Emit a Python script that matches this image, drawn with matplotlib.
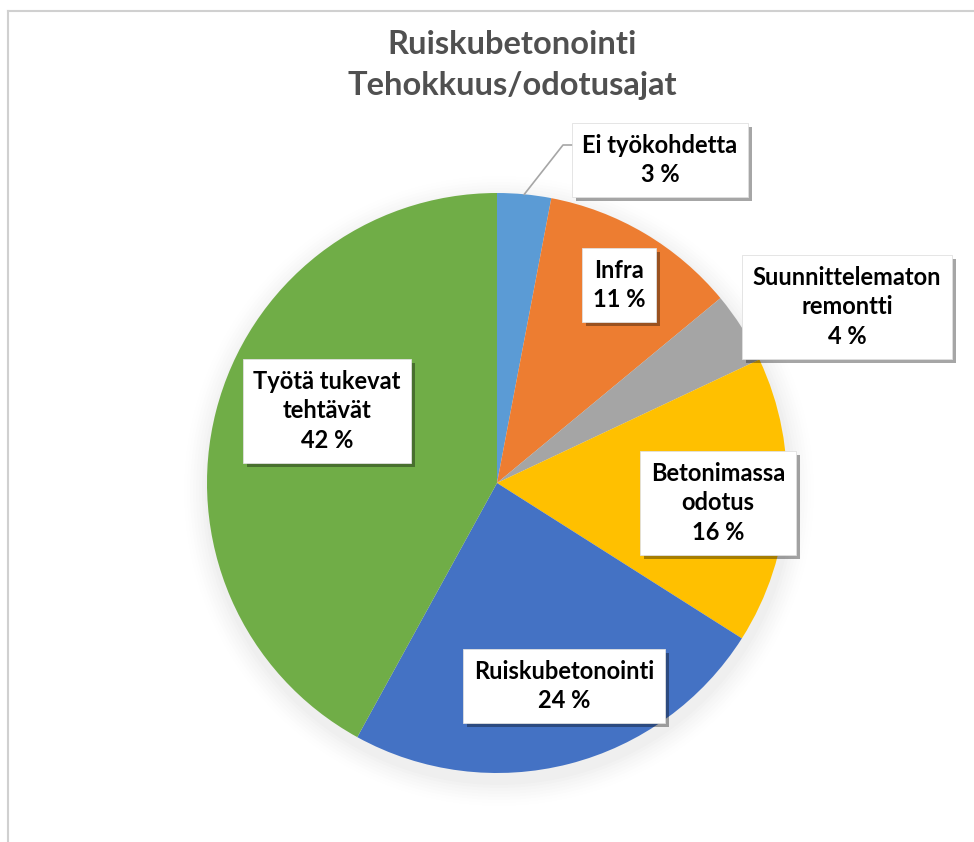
import matplotlib
matplotlib.use("Agg")
import matplotlib.pyplot as plt
import matplotlib.patheffects as pe
from matplotlib.patches import Circle
import numpy as np

plt.rcParams['font.family'] = ['Lato', 'DejaVu Sans']

# ---- data ----
categories = ["Ei työkohdetta", "Infra", "Suunnittelematon\nremontti",
              "Betonimassa\nodotus", "Ruiskubetonointi", "Työtä tukevat\ntehtävät"]
values = [3, 11, 4, 16, 24, 42]
colors = ["#5B9BD5", "#ED7D31", "#A5A5A5", "#FFC000", "#4472C4", "#70AD47"]
title_lines = ["Ruiskubetonointi", "Tehokkuus/odotusajat"]

# ---- layout (pixels, origin top-left) ----
W, H = 974, 842
cx, cy, R = 497, 483, 290
label_pos = [(660, 160), (619, 285), (847, 307), (718, 503), (564, 686), (327, 411)]

fig = plt.figure(figsize=(W / 100, H / 100), dpi=100)
ax = fig.add_axes([0, 0, 1, 1])

# soft shadow under pie
for i, a in enumerate(np.linspace(0.012, 0.004, 8)):
    ax.add_patch(Circle((cx + 2, H - cy - 8), R + 4 + i * 3, color="black",
                        alpha=a, lw=0, zorder=0))

wedges, _ = ax.pie(values, colors=colors, startangle=90, counterclock=False,
                   center=(cx, H - cy), radius=R,
                   wedgeprops=dict(linewidth=0))
for w in wedges:
    w.set_zorder(2)

# labels
for (x, y), cat, v in zip(label_pos, categories, values):
    t = ax.text(x, H - y, f"{cat}\n{v} %", ha="center", va="center",
                fontsize=17, fontweight="bold", color="#000000",
                linespacing=1.35, zorder=5,
                bbox=dict(boxstyle="square,pad=0.45", fc="white", ec="#E0E0E0", lw=0.6))
    t.get_bbox_patch().set_path_effects([
        pe.SimplePatchShadow(offset=(3, -3), shadow_rgbFace="black", alpha=0.35),
        pe.Normal()])

# leader line for the small first slice
start = 90.0
mid = np.deg2rad(start - values[0] / sum(values) * 360 / 2)
ex, ey = cx + R * np.cos(mid), (H - cy) + R * np.sin(mid)
ax.plot([ex, 563, 575], [ey, H - 145, H - 145], color="#A6A6A6", lw=1.2, zorder=3)

# title
ax.text(512, H - 45, title_lines[0], ha="center", va="center",
        fontsize=23.5, fontweight="bold", color="#505050")
ax.text(512, H - 86, title_lines[1], ha="center", va="center",
        fontsize=23.5, fontweight="bold", color="#505050")

# chart frame
ax.plot([8, W], [H - 11, H - 11], color="#D0D0D0", lw=1.5, zorder=1)
ax.plot([8, 8], [0, H - 11], color="#D0D0D0", lw=1.5, zorder=1)

ax.set_xlim(0, W)
ax.set_ylim(0, H)
ax.set_aspect("equal")
ax.axis("off")

fig.savefig("out.png", dpi=100, facecolor="white")
